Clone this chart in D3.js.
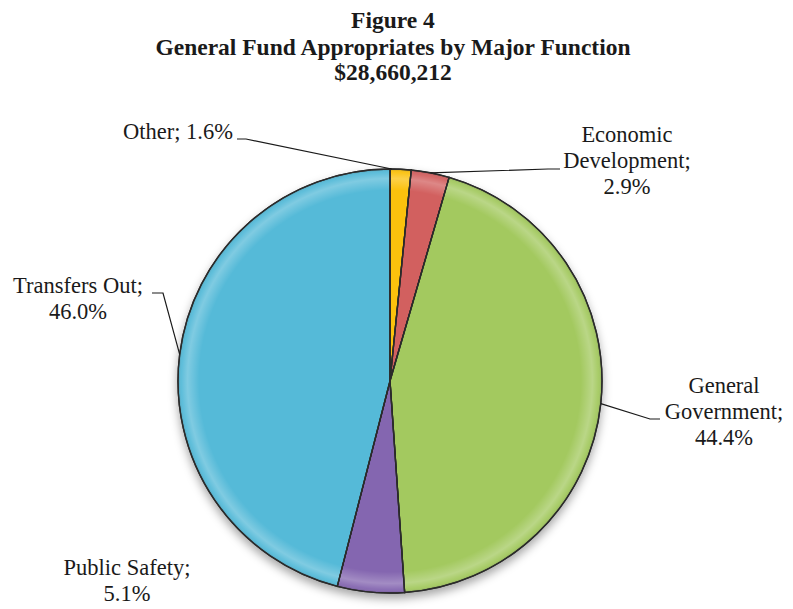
<!DOCTYPE html>
<html>
<head>
<meta charset="utf-8">
<script src="https://cdn.jsdelivr.net/npm/d3@7"></script>
<style>
  body { margin: 0; background: #fff; }
  text { font-family: "Liberation Serif", "Times New Roman", serif; fill: #1a1a1a; }
</style>
</head>
<body>
<div id="chart"></div>
<script>
//data, clockwise from 12 o'clock
var categories = ["Other", "Economic Development", "General Government", "Public Safety", "Transfers Out"];
var shares = [1.6, 2.9, 44.4, 5.1, 46.0];
var labelLines = [
  ["Other; 1.6%"],
  ["Economic", "Development;", "2.9%"],
  ["General", "Government;", "44.4%"],
  ["Public Safety;", "5.1%"],
  ["Transfers Out;", "46.0%"]
];
var titleLines = ["Figure 4", "General Fund Appropriates by Major Function", "$28,660,212"];
var colors = ["#fbc10c", "#d2605f", "#a3c95f", "#8466b0", "#55bad8"];

//layout
var w = 793, h = 609;
var cx = 390, cy = 381, r = 212;

//label placement: text anchor point, first baseline, leader elbow points
//anchorT = where on the slice's arc the leader line starts (0..1 of slice)
var labelLayout = [
  {x: 233, y: 139, anchor: "end",    anchorT: 0.08, leader: [[237, 139], [246, 139]]},
  {x: 627, y: 142, anchor: "middle", anchorT: 0.5,  leader: [[560, 169], [548, 169]]},
  {x: 724, y: 393, anchor: "middle", anchorT: 0.5,  leader: [[660, 419], [650, 419]]},
  {x: 127, y: 575, anchor: "middle", anchorT: null, leader: null},
  {x: 78,  y: 293, anchor: "middle", anchorT: 0.5,  leader: [[152, 293], [163, 293]]}
];

var svg = d3.select("#chart").append("svg")
  .attr("width", w)
  .attr("height", h);

var defs = svg.append("defs");

var shadow = defs.append("filter")
  .attr("id", "shadow")
  .attr("x", "-20%").attr("y", "-20%")
  .attr("width", "140%").attr("height", "140%");
shadow.append("feDropShadow")
  .attr("dx", 0).attr("dy", 5)
  .attr("stdDeviation", 5)
  .attr("flood-color", "#000")
  .attr("flood-opacity", 0.35);

//rim highlight for the bevel look (coords relative to the pie centre)
var rim = defs.append("radialGradient")
  .attr("id", "rim")
  .attr("gradientUnits", "userSpaceOnUse")
  .attr("cx", 0).attr("cy", 0).attr("r", r);
rim.append("stop").attr("offset", "0.9").attr("stop-color", "#fff").attr("stop-opacity", 0);
rim.append("stop").attr("offset", "0.955").attr("stop-color", "#fff").attr("stop-opacity", 0.25);
rim.append("stop").attr("offset", "0.985").attr("stop-color", "#fff").attr("stop-opacity", 0.05);
rim.append("stop").attr("offset", "1").attr("stop-color", "#000").attr("stop-opacity", 0.2);

//title
svg.append("g").attr("class", "title")
  .selectAll("text")
  .data(titleLines)
  .enter()
  .append("text")
  .attr("x", 393)
  .attr("y", function(d, i) { return [28, 55, 80][i]; })
  .attr("text-anchor", "middle")
  .attr("font-size", 23.5)
  .attr("font-weight", "bold")
  .attr("fill", "#111")
  .text(function(d) { return d; });

var pie = d3.pie().sort(null).value(function(d) { return d; });
var arcs = pie(shares);
var arc = d3.arc().innerRadius(0).outerRadius(r);

var g = svg.append("g")
  .attr("transform", "translate(" + cx + "," + cy + ")");

var slices = g.append("g").attr("filter", "url(#shadow)");

slices.selectAll("path.slice")
  .data(arcs)
  .enter()
  .append("path")
  .attr("class", "slice")
  .attr("d", arc)
  .attr("fill", function(d, i) { return colors[i]; })
  .attr("stroke", "#2b2b2b")
  .attr("stroke-width", 1.4)
  .attr("stroke-linejoin", "round");

//highlight overlay
g.append("g")
  .selectAll("path")
  .data(arcs)
  .enter()
  .append("path")
  .attr("d", d3.arc().innerRadius(0).outerRadius(r - 0.7))
  .attr("fill", "url(#rim)")
  .attr("pointer-events", "none");

//re-stroke edges on top of the overlay
g.append("g")
  .selectAll("path")
  .data(arcs)
  .enter()
  .append("path")
  .attr("d", arc)
  .attr("fill", "none")
  .attr("stroke", "#2b2b2b")
  .attr("stroke-width", 1.3);

//leader lines
var lines = svg.append("g").attr("class", "leaders");
arcs.forEach(function(d, i) {
  var lay = labelLayout[i];
  if (!lay.leader) return;
  var a = d.startAngle + (d.endAngle - d.startAngle) * lay.anchorT;
  var p = [cx + r * Math.sin(a), cy - r * Math.cos(a)];
  var pts = lay.leader.concat([p]);
  lines.append("path")
    .attr("d", d3.line()(pts))
    .attr("fill", "none")
    .attr("stroke", "#1a1a1a")
    .attr("stroke-width", 1.2);
});

//labels
var labels = svg.append("g").attr("class", "labels");
labelLines.forEach(function(ls, i) {
  var lay = labelLayout[i];
  var t = labels.append("text")
    .attr("font-size", 22.5)
    .attr("text-anchor", lay.anchor);
  t.selectAll("tspan")
    .data(ls)
    .enter()
    .append("tspan")
    .attr("x", lay.x)
    .attr("y", function(d, j) { return lay.y + j * 26; })
    .text(function(d) { return d; });
});
</script>
</body>
</html>
